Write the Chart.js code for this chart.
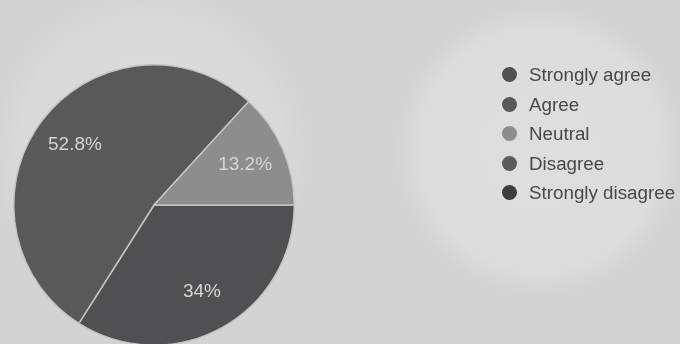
<!DOCTYPE html>
<html>
<head>
<meta charset="utf-8">
<script src="https://cdn.jsdelivr.net/npm/chart.js@4/dist/chart.umd.min.js"></script>
<style>
  html, body { margin: 0; padding: 0; overflow: hidden; }
  body {
    width: 680px; height: 344px; position: relative;
    background:
      radial-gradient(circle at 540px 150px, #dedede 0, #dcdcdc 120px, rgba(220,220,220,0) 145px),
      radial-gradient(circle at 150px 150px, #dadada 0, #d9d9d9 130px, rgba(218,218,218,0) 160px),
      #d3d3d3;
    font-family: "Liberation Sans", Arial, sans-serif;
  }
  #wrap { position: absolute; left: 0; top: 0; width: 680px; height: 346px; }
  #legend { position: absolute; left: 502px; top: 64px; }
  .item { position: absolute; left: 0; height: 22px; white-space: nowrap; }
  .dot { position: absolute; left: 0; top: 3px; width: 15px; height: 15px; border-radius: 50%; }
  .txt { position: absolute; left: 27px; top: 0; font-size: 18.8px; line-height: 22px; color: #484848; }
</style>
</head>
<body>
<div id="wrap"><canvas id="c"></canvas></div>
<div id="legend"></div>
<script>
const categories = ["Strongly agree", "Agree", "Neutral", "Disagree", "Strongly disagree"];
const percentValues = [34, 52.8, 13.2, 0, 0];
const sliceColors = ["#505052", "#595959", "#8d8d8d", "#5c5c5c", "#3d3d3f"];

const labelPlugin = {
  id: 'sliceLabels',
  afterDatasetsDraw(chart) {
    const ctx = chart.ctx;
    const meta = chart.getDatasetMeta(0);
    ctx.save();
    ctx.font = '19px "Liberation Sans", Arial, sans-serif';
    ctx.fillStyle = '#d4d4d4';
    ctx.textAlign = 'center';
    ctx.textBaseline = 'middle';
    meta.data.forEach((arc, i) => {
      const v = percentValues[i];
      if (!v) return;
      const p = arc.getProps(['x', 'y', 'startAngle', 'endAngle', 'outerRadius'], true);
      const mid = (p.startAngle + p.endAngle) / 2;
      const r = p.outerRadius * 0.71;
      ctx.fillText(v + '%', p.x + Math.cos(mid) * r, p.y + Math.sin(mid) * r);
    });
    ctx.restore();
  }
};

new Chart(document.getElementById('c'), {
  type: 'pie',
  data: {
    labels: categories,
    datasets: [{
      data: percentValues,
      backgroundColor: sliceColors,
      borderColor: '#c4c4c4',
      borderWidth: 1.5
    }]
  },
  options: {
    responsive: true,
    maintainAspectRatio: false,
    animation: false,
    rotation: 90,
    layout: { padding: { left: 13, right: 385, top: 64, bottom: 0 } },
    plugins: { legend: { display: false }, tooltip: { enabled: false } }
  },
  plugins: [labelPlugin]
});

const legendEl = document.getElementById('legend');
categories.forEach((name, i) => {
  const item = document.createElement('div');
  item.className = 'item';
  item.style.top = (i * 29.5) + 'px';
  const dot = document.createElement('div');
  dot.className = 'dot';
  dot.style.background = sliceColors[i];
  const txt = document.createElement('div');
  txt.className = 'txt';
  txt.textContent = name;
  item.appendChild(dot);
  item.appendChild(txt);
  legendEl.appendChild(item);
});
</script>
</body>
</html>
